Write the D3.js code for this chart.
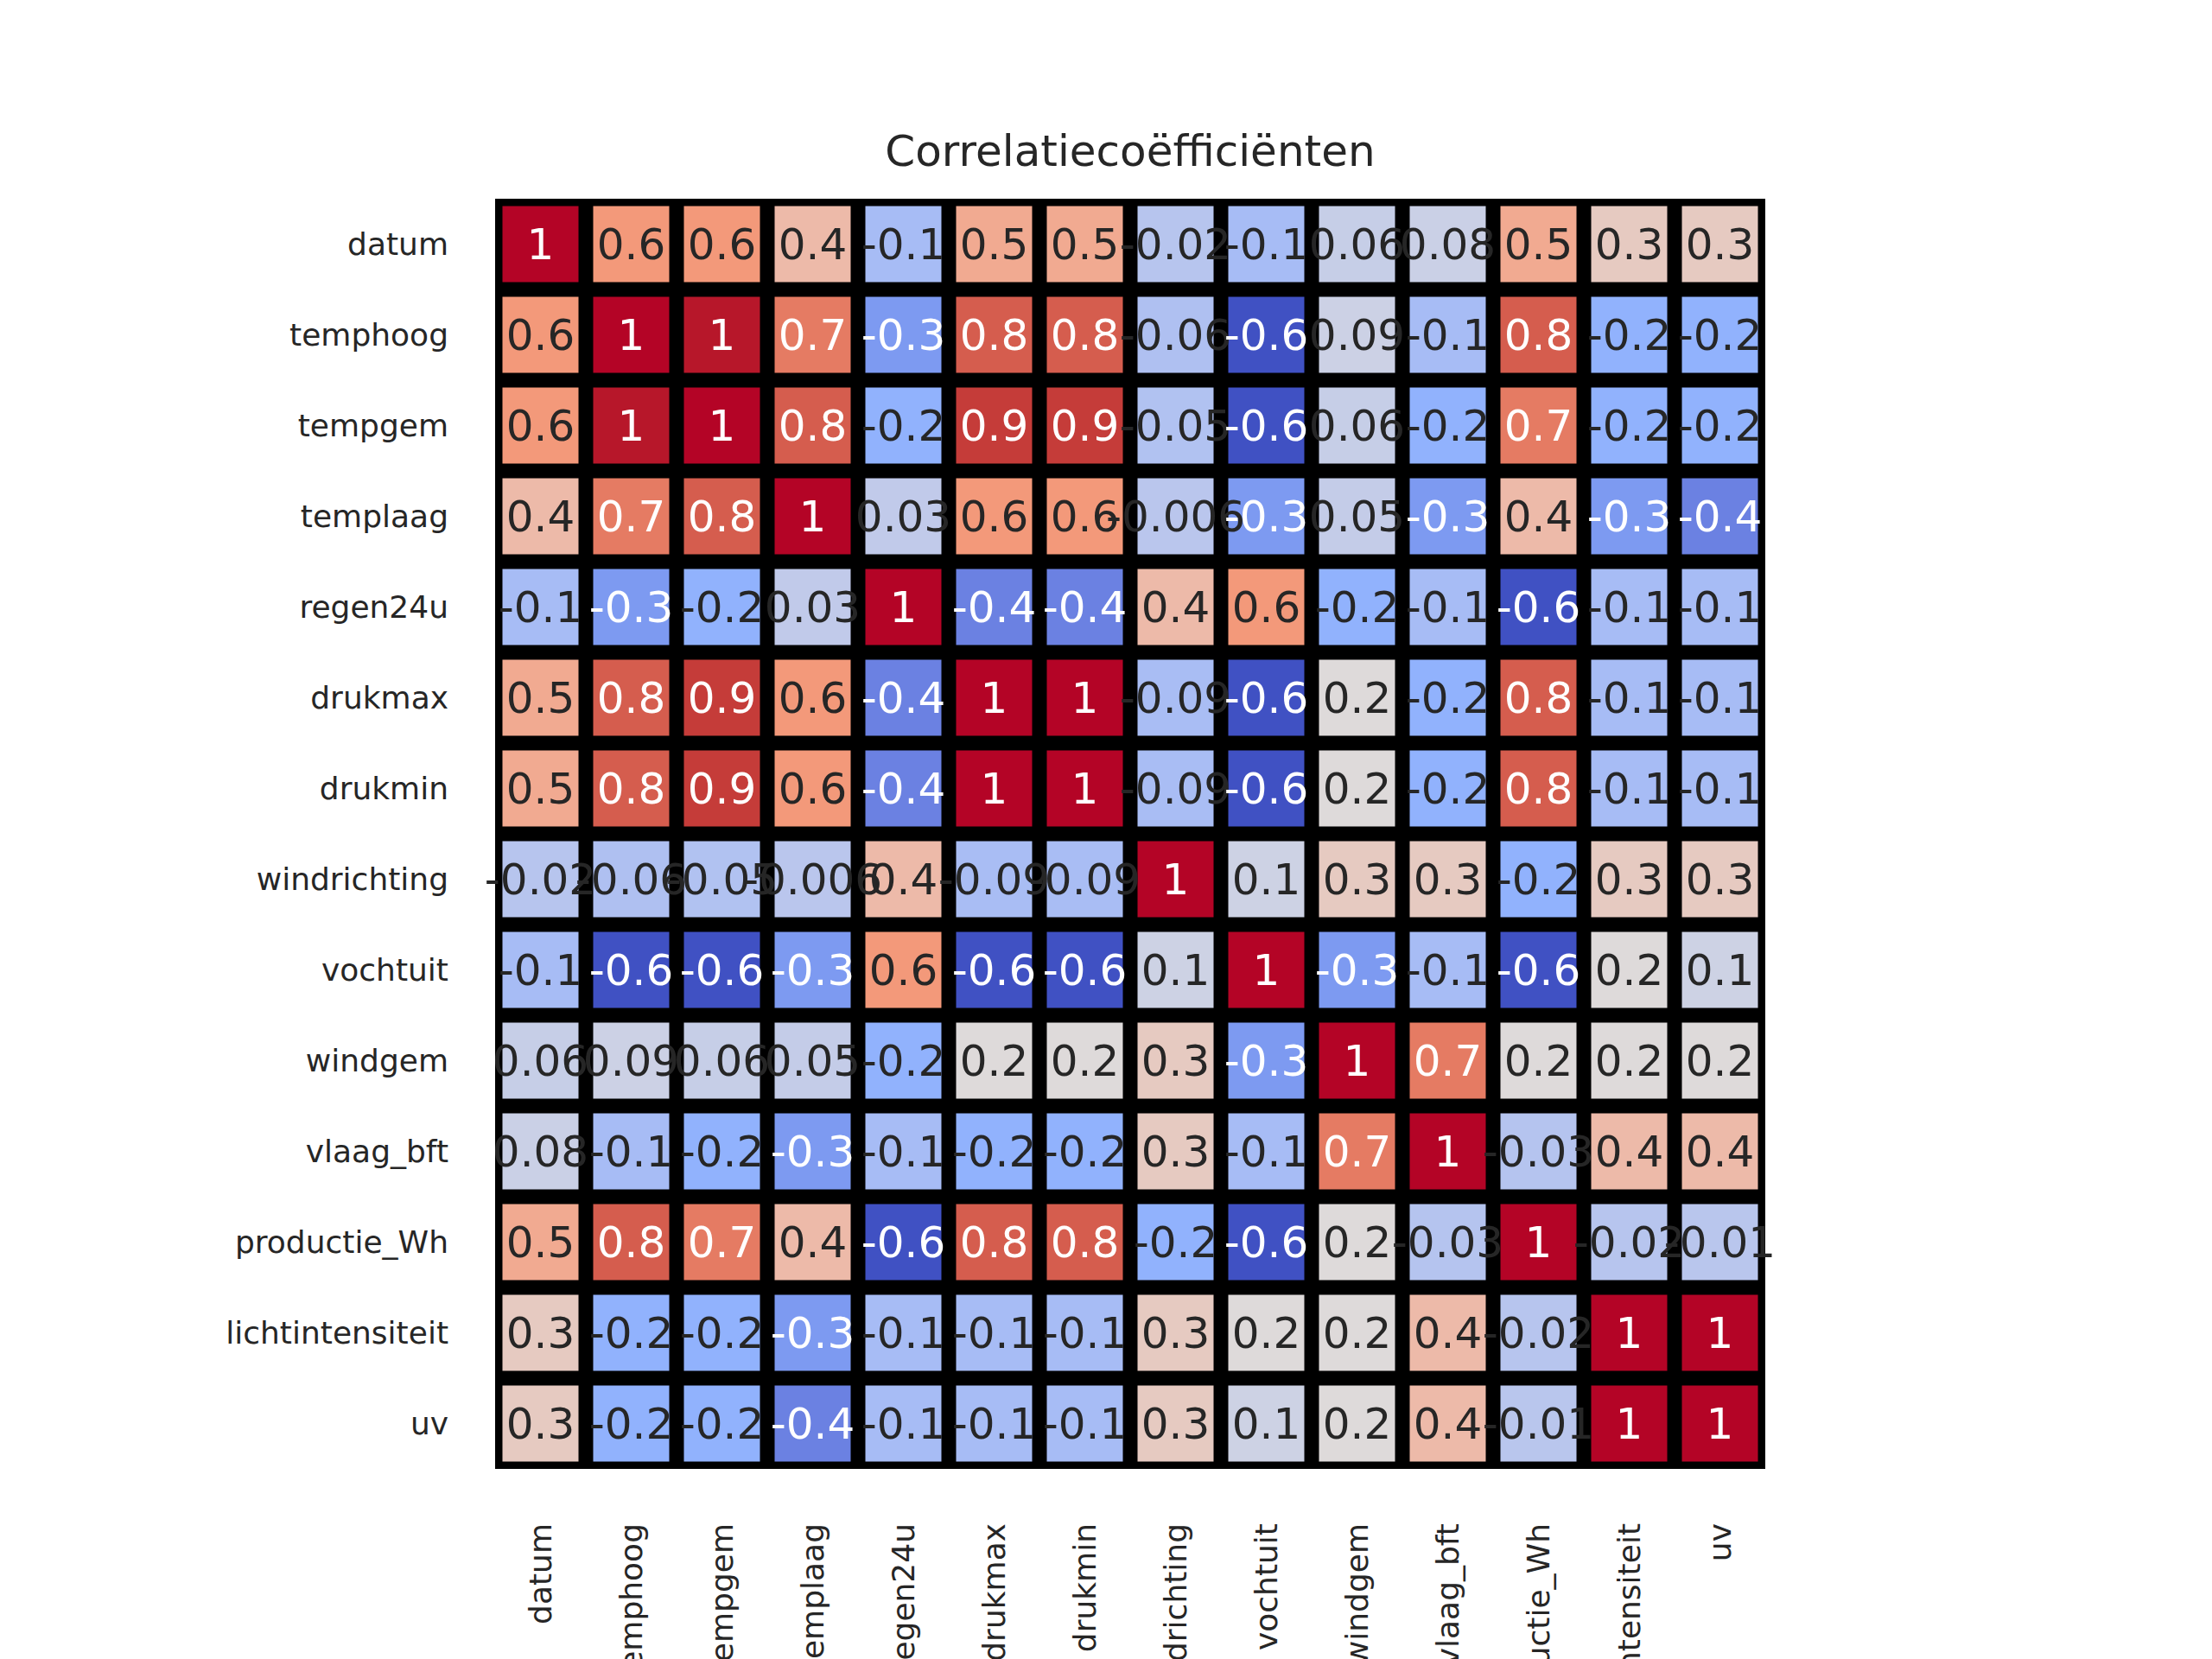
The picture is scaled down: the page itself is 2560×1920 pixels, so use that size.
<!DOCTYPE html>
<html>
<head>
<meta charset="utf-8">
<script src="https://cdn.jsdelivr.net/npm/d3@7"></script>
<style>
  body { margin: 0; background: #fff; }
  text { font-family: "DejaVu Sans", sans-serif; }
</style>
</head>
<body>
<div class="chart"></div>
<script>
var labels = ["datum", "temphoog", "tempgem", "templaag", "regen24u", "drukmax", "drukmin",
  "windrichting", "vochtuit", "windgem", "vlaag_bft", "productie_Wh", "lichtintensiteit", "uv"];

var matrix = [
  [1, 0.6, 0.6, 0.4, -0.1, 0.5, 0.5, -0.02, -0.1, 0.06, 0.08, 0.5, 0.3, 0.3],
  [0.6, 1, 0.98, 0.7, -0.3, 0.8, 0.8, -0.06, -0.6, 0.09, -0.1, 0.8, -0.2, -0.2],
  [0.6, 0.98, 1, 0.8, -0.2, 0.9, 0.9, -0.05, -0.6, 0.06, -0.2, 0.7, -0.2, -0.2],
  [0.4, 0.7, 0.8, 1, 0.03, 0.6, 0.6, -0.006, -0.3, 0.05, -0.3, 0.4, -0.3, -0.4],
  [-0.1, -0.3, -0.2, 0.03, 1, -0.4, -0.4, 0.4, 0.6, -0.2, -0.1, -0.6, -0.1, -0.1],
  [0.5, 0.8, 0.9, 0.6, -0.4, 1, 1, -0.09, -0.6, 0.2, -0.2, 0.8, -0.1, -0.1],
  [0.5, 0.8, 0.9, 0.6, -0.4, 1, 1, -0.09, -0.6, 0.2, -0.2, 0.8, -0.1, -0.1],
  [-0.02, -0.06, -0.05, -0.006, 0.4, -0.09, -0.09, 1, 0.1, 0.3, 0.3, -0.2, 0.3, 0.3],
  [-0.1, -0.6, -0.6, -0.3, 0.6, -0.6, -0.6, 0.1, 1, -0.3, -0.1, -0.6, 0.2, 0.1],
  [0.06, 0.09, 0.06, 0.05, -0.2, 0.2, 0.2, 0.3, -0.3, 1, 0.7, 0.2, 0.2, 0.2],
  [0.08, -0.1, -0.2, -0.3, -0.1, -0.2, -0.2, 0.3, -0.1, 0.7, 1, -0.03, 0.4, 0.4],
  [0.5, 0.8, 0.7, 0.4, -0.6, 0.8, 0.8, -0.2, -0.6, 0.2, -0.03, 1, -0.02, -0.01],
  [0.3, -0.2, -0.2, -0.3, -0.1, -0.1, -0.1, 0.3, 0.2, 0.2, 0.4, -0.02, 1, 1],
  [0.3, -0.2, -0.2, -0.4, -0.1, -0.1, -0.1, 0.3, 0.1, 0.2, 0.4, -0.01, 1, 1]
];

var titleText = "Correlatiecoëfficiënten";

var svgWidth = 2560, svgHeight = 1920;
var gridLeft = 573, gridTop = 230, gridSize = 1470, gap = 17;

var svg = d3.select(".chart").append("svg")
  .attr("width", svgWidth).attr("height", svgHeight);

var x = d3.scaleBand().domain(labels).range([gridLeft, gridLeft + gridSize]);
var y = d3.scaleBand().domain(labels).range([gridTop, gridTop + gridSize]);

// approximate matplotlib coolwarm, stretched over the data range
var vmin = -0.62, vmax = 1, mid = (vmin + vmax) / 2;
var color = d3.scaleLinear()
  .domain([vmin, (vmin + mid) / 2, mid, (mid + vmax) / 2, vmax])
  .range(["#3b4cc0", "#8db0fe", "#dddcdc", "#f49a7b", "#b40426"])
  .interpolate(d3.interpolateLab)
  .clamp(true);

function luminance(c) {
  var rgb = d3.rgb(c);
  var ch = [rgb.r, rgb.g, rgb.b].map(function(v) {
    v = v / 255;
    return v <= 0.03928 ? v / 12.92 : Math.pow((v + 0.055) / 1.055, 2.4);
  });
  return 0.2126 * ch[0] + 0.7152 * ch[1] + 0.0722 * ch[2];
}

svg.append("rect")
  .attr("x", gridLeft).attr("y", gridTop)
  .attr("width", gridSize).attr("height", gridSize)
  .attr("fill", "#000");

var cells = [];
matrix.forEach(function(row, i) {
  row.forEach(function(v, j) { cells.push({r: labels[i], c: labels[j], v: v}); });
});

svg.selectAll("rect.cell").data(cells).enter().append("rect")
  .attr("class", "cell")
  .attr("x", d => x(d.c) + gap / 2)
  .attr("y", d => y(d.r) + gap / 2)
  .attr("width", x.bandwidth() - gap)
  .attr("height", y.bandwidth() - gap)
  .attr("fill", d => color(d.v));

var fmt = d3.format(".1g");
svg.selectAll("text.val").data(cells).enter().append("text")
  .attr("class", "val")
  .attr("x", d => x(d.c) + x.bandwidth() / 2)
  .attr("y", d => y(d.r) + y.bandwidth() / 2)
  .attr("text-anchor", "middle")
  .attr("dominant-baseline", "central")
  .attr("font-size", 50)
  .attr("fill", d => luminance(color(d.v)) > 0.408 ? "#262626" : "#fff")
  .text(d => fmt(d.v).replace("\u2212", "-"));

// row labels
svg.selectAll("text.row").data(labels).enter().append("text")
  .attr("class", "row")
  .attr("x", 519)
  .attr("y", d => y(d) + y.bandwidth() / 2)
  .attr("text-anchor", "end")
  .attr("dominant-baseline", "central")
  .attr("font-size", 36)
  .attr("fill", "#262626")
  .text(d => d);

// column labels (run off the bottom edge as in the original)
svg.selectAll("text.col").data(labels).enter().append("text")
  .attr("class", "col")
  .attr("transform", d => `translate(${x(d) + x.bandwidth() / 2}, 1763) rotate(-90)`)
  .attr("text-anchor", "end")
  .attr("dominant-baseline", "central")
  .attr("font-size", 36)
  .attr("fill", "#262626")
  .text(d => d);

svg.append("text")
  .attr("x", gridLeft + gridSize / 2)
  .attr("y", 192)
  .attr("text-anchor", "middle")
  .attr("font-size", 50)
  .attr("fill", "#262626")
  .text(titleText);
</script>
</body>
</html>
